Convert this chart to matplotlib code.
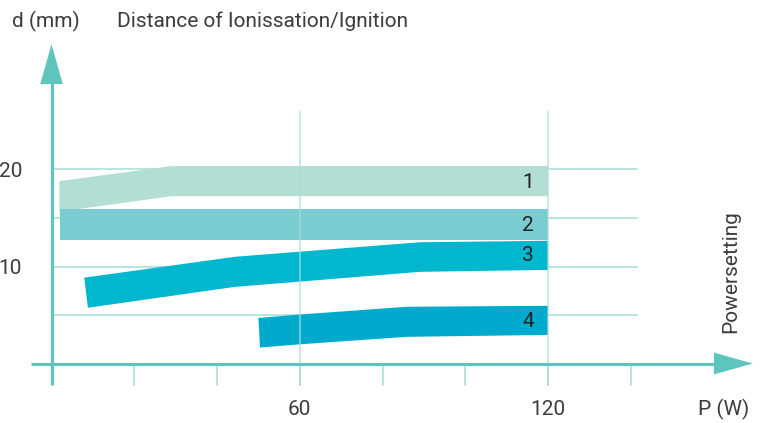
import matplotlib
matplotlib.use('Agg')
import matplotlib.pyplot as plt
from matplotlib.patches import Polygon

plt.rcParams['font.family'] = ['Roboto', 'DejaVu Sans']

AXIS = '#5ec5bd'
GRID = '#a6dcd8'
TEXT = '#3c3c3c'
BAND_COLORS = ['#b3ded4', '#79cdd0', '#00b7cd', '#00aacd']

# band outlines: upper edge (x, d) and lower edge (x, d), P in W, d in mm
band1_top_x = [1.9, 29.0, 120]
band1_top_d = [18.8, 20.35, 20.35]
band1_bot_x = [1.9, 29.0, 120]
band1_bot_d = [15.65, 17.25, 17.25]

band2_top_x = [2.0, 120]
band2_top_d = [15.9, 15.9]
band2_bot_x = [2.0, 120]
band2_bot_d = [12.75, 12.75]

band3_top_x = [7.9, 44.3, 89.0, 120]
band3_top_d = [8.85, 11.0, 12.5, 12.65]
band3_bot_x = [8.8, 44.3, 89.0, 120]
band3_bot_d = [5.75, 7.9, 9.45, 9.65]

band4_top_x = [50.0, 60.0, 85.8, 120]
band4_top_d = [4.7, 5.05, 5.85, 5.95]
band4_bot_x = [50.4, 60.0, 85.8, 120]
band4_bot_d = [1.65, 1.98, 2.75, 2.95]

band_labels = ['1', '2', '3', '4']
label_d = [18.7, 14.2, 11.1, 4.3]

x_ticks = [20, 40, 60, 80, 100, 120, 140]
x_labels = {60: '60', 120: '120'}
y_grid = [5, 10, 15, 20]
y_labels = {10: '10', 20: '20'}
x_grid = [60, 120]

FS = 15
TXT = dict(fontsize=FS, color=TEXT)


def main():
    fig = plt.figure(figsize=(7.65, 4.23), dpi=100)
    ax = fig.add_axes([0, 0, 1, 1])
    ax.set_xlim(-12.45, 172.45)
    ax.set_ylim(-6.13, 37.47)
    ax.axis('off')

    # horizontal grid, below the bands
    for d in y_grid:
        ax.plot([0, 141.4], [d, d], color=GRID, lw=1.1, zorder=1)

    bands = [
        (band1_top_x, band1_top_d, band1_bot_x, band1_bot_d),
        (band2_top_x, band2_top_d, band2_bot_x, band2_bot_d),
        (band3_top_x, band3_top_d, band3_bot_x, band3_bot_d),
        (band4_top_x, band4_top_d, band4_bot_x, band4_bot_d),
    ]
    for (tx, td, bx, bd), c in zip(bands, BAND_COLORS):
        pts = list(zip(tx, td)) + list(zip(bx, bd))[::-1]
        ax.add_patch(Polygon(pts, closed=True, fc=c, ec='none', zorder=2))

    for lab, d in zip(band_labels, label_d):
        ax.text(115.2, d, lab, ha='center', va='center', fontsize=FS,
                color='#222222', zorder=5)

    # vertical grid, drawn over the bands
    for p in x_grid:
        ax.plot([p, p], [-2.2, 25.9], color=GRID, lw=1.1, alpha=0.8, zorder=3)
    for p in x_ticks:
        ax.plot([p, p], [-2.2, 0], color=GRID, lw=1.1, zorder=3)

    # axes with arrow heads
    ax.plot([-5.0, 160.5], [0, 0], color=AXIS, lw=2.2, zorder=4,
            solid_capstyle='butt')
    ax.add_patch(Polygon([(160.1, -1.13), (169.5, 0), (160.1, 1.13)],
                         closed=True, fc=AXIS, ec='none', zorder=4))
    ax.plot([0, 0], [-2.2, 29.0], color=AXIS, lw=2.2, zorder=4,
            solid_capstyle='butt')
    ax.add_patch(Polygon([(-2.73, 28.8), (0, 32.9), (2.73, 28.8)],
                         closed=True, fc=AXIS, ec='none', zorder=4))

    for p, s in x_labels.items():
        ax.text(p, -4.7, s, ha='center', va='center', **TXT)
    for d, s in y_labels.items():
        ax.text(-7.1, d - 0.2, s, ha='right', va='center', **TXT)

    ax.text(162.5, -4.7, 'P (W)', ha='center', va='center', **TXT)
    ax.text(164.1, 9.5, 'Powersetting', ha='center', va='center',
            rotation=90, **TXT)
    ax.text(-9.55, 35.3, 'd (mm)', ha='left', va='center', **TXT)
    ax.text(15.8, 35.3, 'Distance of Ionissation/Ignition', ha='left',
            va='center', **TXT)

    fig.savefig('out.png', dpi=100)


if __name__ == '__main__':
    main()
